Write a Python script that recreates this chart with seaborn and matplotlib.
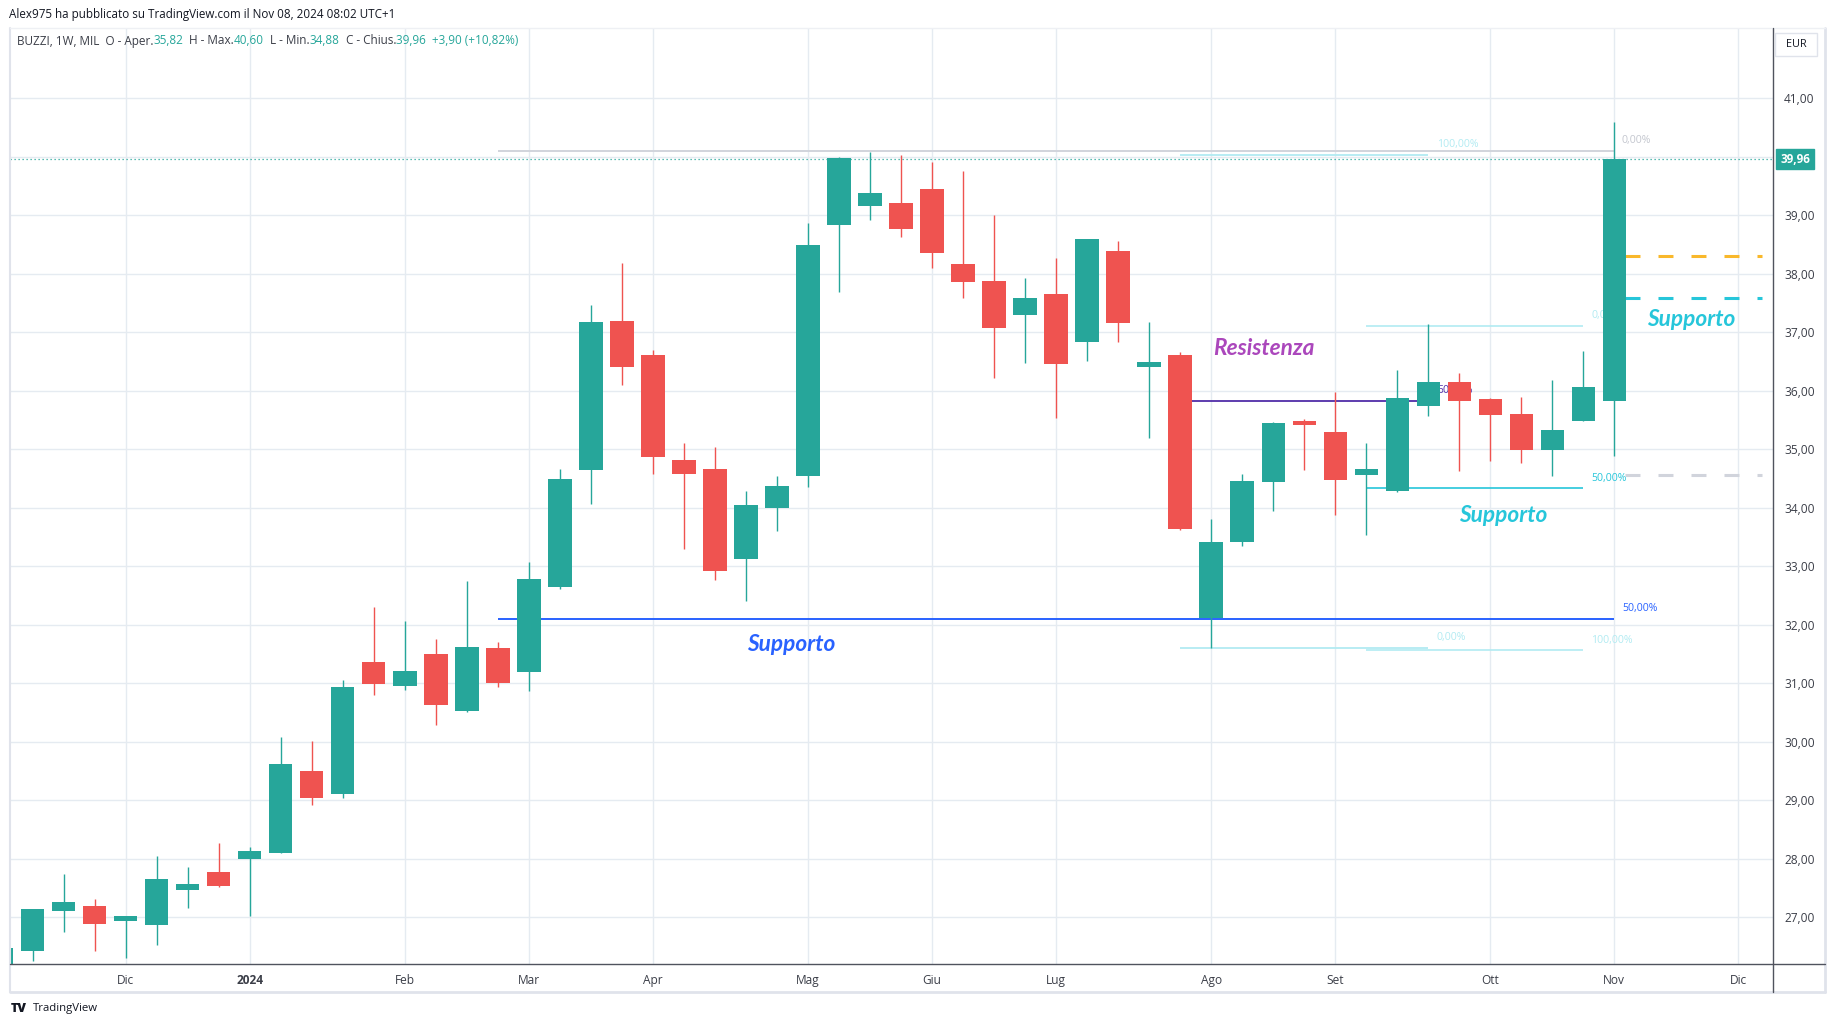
import numpy as np
import pandas as pd
import matplotlib
matplotlib.use("Agg")
import matplotlib.pyplot as plt
from matplotlib.lines import Line2D
from matplotlib.patches import Rectangle
from matplotlib.transforms import blended_transform_factory
import seaborn as sns

# ---------------- data ----------------
week_start = pd.date_range("2023-11-06", "2024-11-04", freq="W-MON")

opens = [26.15, 26.43, 27.11, 27.19, 26.94, 26.87, 27.47, 27.77, 28.00, 28.09,
         29.50, 29.11, 31.36, 30.96, 31.50, 30.52, 31.60, 31.20, 32.65, 34.65,
         37.19, 36.61, 34.82, 34.66, 33.12, 33.99, 34.55, 38.84, 39.15, 39.21,
         39.45, 38.17, 37.88, 37.29, 37.66, 36.83, 38.39, 36.41, 36.61, 32.11,
         33.41, 34.44, 35.49, 35.30, 34.56, 34.28, 35.73, 36.15, 35.85, 35.61,
         34.99, 35.49, 35.82]
highs = [26.52, 27.14, 27.74, 27.31, 27.02, 28.05, 27.86, 28.26, 28.20, 30.08,
         30.02, 31.06, 32.30, 32.07, 31.75, 32.75, 31.71, 33.07, 34.66, 37.46,
         38.18, 36.70, 35.11, 35.04, 34.29, 34.54, 38.87, 39.99, 40.08, 40.03,
         39.91, 39.76, 39.00, 37.93, 38.27, 38.60, 38.56, 37.18, 36.66, 33.81,
         34.58, 35.46, 35.51, 35.97, 35.11, 36.36, 37.14, 36.31, 35.87, 35.90,
         36.19, 36.68, 40.60]
lows = [26.05, 26.25, 26.75, 26.42, 26.31, 26.53, 27.16, 27.51, 27.02, 28.09,
        28.91, 29.03, 30.79, 30.89, 30.28, 30.50, 30.94, 30.86, 32.61, 34.07,
        36.10, 34.57, 33.30, 32.77, 32.40, 33.61, 34.36, 37.68, 38.91, 38.63,
        38.10, 37.59, 36.22, 36.47, 35.54, 36.51, 36.84, 35.20, 33.62, 31.61,
        33.35, 33.94, 34.65, 33.87, 33.54, 34.26, 35.56, 34.62, 34.79, 34.77,
        34.55, 35.49, 34.88]
closes = [26.48, 27.14, 27.26, 26.89, 27.02, 27.65, 27.57, 27.54, 28.13, 29.62,
          29.04, 30.94, 30.98, 31.21, 30.62, 31.62, 31.01, 32.78, 34.49, 37.18,
          36.40, 34.87, 34.58, 32.91, 34.05, 34.37, 38.49, 39.98, 39.38, 38.77,
          38.36, 37.85, 37.08, 37.59, 36.45, 38.60, 37.15, 36.49, 33.64, 33.42,
          34.46, 35.44, 35.42, 34.48, 34.67, 35.88, 36.15, 35.83, 35.59, 34.99,
          35.32, 36.07, 39.96]

price_ticks = [27, 28, 29, 30, 31, 32, 33, 34, 35, 36, 37, 38, 39, 40, 41]
month_names = {1: "Gen", 2: "Feb", 3: "Mar", 4: "Apr", 5: "Mag", 6: "Giu",
               7: "Lug", 8: "Ago", 9: "Set", 10: "Ott", 11: "Nov", 12: "Dic"}

# drawing-tool levels (prices)
fib_main_levels = [40.09, 32.09]            # 0% , 50%
fib_main_labels = ["0,00%", "50,00%"]
fib_a_levels = [40.03, 35.83, 31.60]        # 100%, 50%, 0%
fib_a_labels = ["100,00%", "50,00%", "0,00%"]
fib_b_levels = [37.11, 34.33, 31.56]        # 0%, 50%, 100%
fib_b_labels = ["0,00%", "50,00%", "100,00%"]
dash_levels = [38.30, 37.58, 34.56]

# anchor weeks of drawing tools
fib_main_span = ("2024-02-26", "2024-11-04")
fib_a_span = ("2024-07-29", "2024-09-23")
fib_b_span = ("2024-09-09", "2024-10-28")

# ---------------- style ----------------
sns.set_theme(style="white")
plt.rcParams["font.family"] = ["Open Sans", "DejaVu Sans"]

GREEN = "#26a69a"
RED = "#ef5350"
GRID = "#e5ebf1"
TXT = "#3b3e48"
LIGHTCYAN = "#b2ebf2"
CYAN = "#26c6da"
BLUE = "#2962ff"
PURPLE = "#512da8"

W, H = 1835, 1027
def fx(p): return p / W
def fy(p): return 1 - p / H

fig = plt.figure(figsize=(W / 100, H / 100), dpi=100)
fig.patch.set_facecolor("white")
ax = fig.add_axes([fx(10), fy(964), fx(1773) - fx(10), fy(28) - fy(964)])
ax.set_facecolor("white")
ax.set_xlim(0.266, 57.12)
ax.set_ylim(26.2, 42.2)

def widx(d):
    return int(np.where(week_start == pd.Timestamp(d))[0][0])

# x ticks at first week of each month
axis_weeks = pd.date_range(week_start[0], periods=60, freq="W-MON")
tick_pos, tick_lab = [], []
for i, d in enumerate(axis_weeks):
    if i > 0 and d.month != axis_weeks[i - 1].month:
        tick_pos.append(i)
        tick_lab.append(str(d.year) if d.month == 1 else month_names[d.month])
ax.set_xticks(tick_pos)
ax.set_xticklabels(tick_lab)
for t in ax.get_xticklabels():
    if t.get_text().isdigit():
        t.set_fontweight("bold")
ax.set_yticks(price_ticks)
ax.set_yticklabels(["" if p == 40 else f"{p},00" for p in price_ticks])
ax.yaxis.tick_right()
ax.tick_params(axis="y", length=0, pad=8, labelsize=8.6, labelcolor=TXT)
ax.tick_params(axis="x", length=0, pad=7, labelsize=8.6, labelcolor=TXT)
ax.grid(True, color=GRID, lw=1.0, zorder=0)
ax.set_axisbelow(True)
for s in ax.spines.values():
    s.set_visible(False)

# ---------------- candles ----------------
x = np.arange(len(opens))
o, h, l, c = map(np.array, (opens, highs, lows, closes))
cols = np.where(c >= o, GREEN, RED)
ax.vlines(x, l, h, colors=cols, lw=1.0, zorder=6)
ax.bar(x, np.maximum(np.abs(c - o), 0.03), bottom=np.minimum(o, c), width=0.75,
       color=cols, lw=0, zorder=7)

# last price dotted line
ax.axhline(c[-1], color=GREEN, lw=0.9, ls=(0, (1, 2.2)), zorder=3)

# ---------------- drawing tools ----------------
fs_lab = 7.6
x0, x1 = widx(fib_main_span[0]), widx(fib_main_span[1])
ax.hlines(fib_main_levels[0], x0, x1, color="#d1d4dc", lw=1.4, zorder=3)
ax.text(x1 + 0.25, fib_main_levels[0] + 0.1, fib_main_labels[0], color="#c4c7cf",
        fontsize=fs_lab, va="bottom", ha="left", zorder=3)
ax.hlines(fib_main_levels[1], x0, x1, color=BLUE, lw=1.4, zorder=3)
ax.text(x1 + 0.25, fib_main_levels[1] + 0.1, fib_main_labels[1], color=BLUE,
        fontsize=fs_lab, va="bottom", ha="left", zorder=3)

a0, a1 = widx(fib_a_span[0]), widx(fib_a_span[1])
for lev, lab, col in zip(fib_a_levels, fib_a_labels, [LIGHTCYAN, PURPLE, LIGHTCYAN]):
    ax.hlines(lev, a0, a1, color=col, lw=1.3, zorder=3)
    ax.text(a1 + 0.28, lev + 0.08, lab, color=col, fontsize=fs_lab,
            va="bottom", ha="left", zorder=3)

b0, b1 = widx(fib_b_span[0]), widx(fib_b_span[1])
for lev, lab, col in zip(fib_b_levels, fib_b_labels, [LIGHTCYAN, CYAN, LIGHTCYAN]):
    ax.hlines(lev, b0, b1, color=col, lw=1.2, zorder=3)
    ax.text(b1 + 0.26, lev + 0.08, lab, color=col, fontsize=fs_lab,
            va="bottom", ha="left", zorder=3)

for lev, col in zip(dash_levels, ["#f9b82b", CYAN, "#d1d4dc"]):
    ax.hlines(lev, 52.35, 56.75, color=col, lw=2.2, ls=(0.0, (4.9, 5.9)), zorder=3)

# annotations
note_kw = dict(fontsize=16.3, fontweight="bold", fontstyle="italic",
               family=["Lato", "DejaVu Sans"], ha="center", va="center", zorder=9)
ax.text(40.7, 36.72, "Resistenza", color="#ab47bc", **note_kw)
ax.text(25.45, 31.66, "Supporto", color=BLUE, **note_kw)
ax.text(48.43, 33.86, "Supporto", color=CYAN, **note_kw)
ax.text(54.47, 37.22, "Supporto", color=CYAN, **note_kw)

# ---------------- frame lines ----------------
def fline(xa, ya, xb, yb, col, lw):
    fig.add_artist(Line2D([fx(xa), fx(xb)], [fy(ya), fy(yb)], color=col, lw=lw,
                          transform=fig.transFigure, zorder=10))
fline(10, 28, 10, 992, "#e0e3eb", 1.5)
fline(10, 992, 1825, 992, "#e0e3eb", 2.0)
fline(1825, 28, 1825, 992, "#e0e3eb", 2.0)
fline(10, 28, 1825, 28, "#eef0f4", 1.0)
fline(10, 964, 1825, 964, "#50535e", 1.0)
fline(1773, 28, 1773, 992, "#50535e", 1.0)

# last price box on axis
tr = blended_transform_factory(fig.transFigure, ax.transData)
ax.text(fx(1795), c[-1], "39,96", transform=tr, ha="center", va="center",
        color="white", fontsize=8.4, fontweight="bold", zorder=12, clip_on=False,
        bbox=dict(boxstyle="square,pad=0.32", fc=GREEN, ec=GREEN))

# EUR box
fig.add_artist(Rectangle((fx(1775), fy(56)), fx(42), 23 / H, transform=fig.transFigure,
                         fc="white", ec="#e0e3eb", lw=1.0, zorder=11))
fig.text(fx(1796), fy(44.5), "EUR", ha="center", va="center", fontsize=7.8,
         color="#131722", zorder=12)

# ---------------- header ----------------
fig.text(fx(9), fy(14), "Alex975 ha pubblicato su TradingView.com il Nov 08, 2024 08:02 UTC+1",
         fontsize=8.35, color="#131722", va="center", ha="left")

segments = [("BUZZI, 1W, MIL  O - Aper.", TXT), ("35,82", GREEN),
            ("  H - Max.", TXT), ("40,60", GREEN), ("  L - Min.", TXT),
            ("34,88", GREEN), ("  C - Chius.", TXT), ("39,96  +3,90 (+10,82%)", GREEN)]
prev = fig.text(fx(17), fy(41), segments[0][0], fontsize=8.45, color=segments[0][1],
                va="center", ha="left")
for s, col in segments[1:]:
    prev = ax.annotate(s, xy=(1, 0.5), xycoords=prev, va="center", ha="left",
                       fontsize=8.45, color=col, annotation_clip=False)

# footer
fig.text(fx(11), fy(1009), "TV", fontsize=9, fontweight="heavy", color="#131722",
         va="center", ha="left")
fig.text(fx(33), fy(1009), "TradingView", fontsize=8.2, color="#131722",
         va="center", ha="left")

fig.savefig("out.png", dpi=100, facecolor="white")
